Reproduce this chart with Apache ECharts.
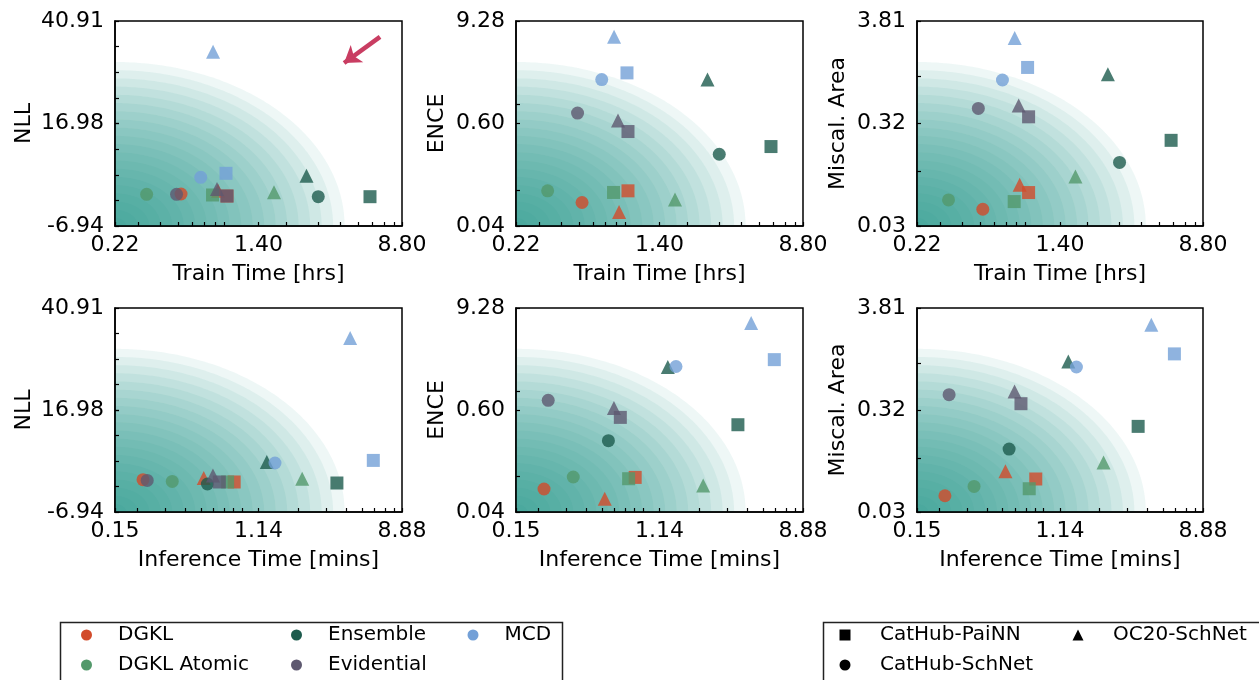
<!DOCTYPE html>
<html>
<head>
<meta charset="utf-8">
<script src="https://cdn.jsdelivr.net/npm/echarts@6/dist/echarts.min.js"></script>
<style>html,body{margin:0;padding:0;background:#fff}#c{width:1259px;height:680px}</style>
</head>
<body>
<div id="c"></div>
<script>
// ---------------- data ----------------
const methods = ['DGKL', 'DGKL Atomic', 'Ensemble', 'Evidential', 'MCD'];
const datasets = ['CatHub-PaiNN', 'CatHub-SchNet', 'OC20-SchNet'];
// each row: [CatHub-PaiNN, CatHub-SchNet, OC20-SchNet], rows in methods order
const trainTime = [[0.935, 0.519, 0.834], [0.777, 0.334, 1.708], [5.84, 3.01, 2.59], [0.935, 0.490, 0.823], [0.923, 0.668, 0.782]];
const inferenceTime = [[0.805, 0.2185, 0.521], [0.733, 0.332, 2.13], [3.50, 0.549, 1.284], [0.651, 0.232, 0.594], [5.89, 1.443, 4.23]];
const nllTrain = [[0.06, 0.53, 1.26], [0.30, 0.46, 0.93], [-0.10, -0.10, 4.80], [0.06, 0.46, 1.70], [5.36, 4.43, 33.74]];
const nllInfer = [[0.10, 0.64, 1.03], [0.10, 0.24, 0.87], [-0.14, -0.37, 4.79], [0.10, 0.47, 1.65], [5.16, 4.55, 33.87]];
const enceTrain = [[0.0993, 0.0727, 0.0565], [0.0951, 0.0993, 0.0788], [0.324, 0.264, 1.94], [0.484, 0.793, 0.650], [2.32, 1.94, 6.11]];
const enceInfer = [[0.0982, 0.0719, 0.0554], [0.0948, 0.0993, 0.0792], [0.404, 0.263, 1.90], [0.492, 0.777, 0.633], [2.32, 1.93, 6.20]];
const miscalTrain = [[0.0603, 0.0403, 0.0728], [0.0485, 0.0505, 0.0890], [0.213, 0.125, 1.05], [0.376, 0.461, 0.495], [1.24, 0.916, 2.52]];
const miscalInfer = [[0.0599, 0.0399, 0.0721], [0.0473, 0.0500, 0.0896], [0.215, 0.124, 1.04], [0.373, 0.464, 0.503], [1.25, 0.909, 2.54]];
// tick labels
const trainTicks = [0.22, 1.40, 8.80];
const inferTicks = [0.15, 1.14, 8.88];
const nllTicks = [-6.94, 16.98, 40.91];
const enceTicks = [0.04, 0.60, 9.28];
const miscalTicks = [0.03, 0.32, 3.81];
// annotation arrow (data units of the Train-time / NLL panel)
const arrowFrom = [6.64, 37.2];
const arrowTo = [4.19, 31.1];

// ---------------- styling ----------------
const FONT = 'DejaVu Sans';
const colors = ['#d24b2b', '#53996b', '#1d5b4d', '#5e5970', '#73a0d7'];
const symbols = ['rect', 'circle', 'triangle'];
const symSizes = [13, 13, 14];
const SHADE_LAYERS = 20;
const gridPos = [
  [115, 21, 287, 205], [516, 21, 287, 205], [917, 21, 286, 205],
  [115, 308, 287, 204], [516, 308, 287, 204], [917, 308, 286, 204]
];

function axisInfo(kind, ticks, isX) {
  if (kind === 'log') {
    const hi = ticks[2], lo = ticks[1] * ticks[1] / hi;
    const mid = Math.sqrt(lo * hi);
    const minor = [];
    const subs = isX ? [2, 3, 4, 5, 6, 7, 8, 9] : [1];
    for (let e = -3; e <= 2; e++) subs.forEach(function (m) {
      const v = m * Math.pow(10, e);
      if (v > lo * 1.001 && v < hi * 0.999) minor.push(v);
    });
    return {lo, hi, labels: [lo * (1 + 1e-7), mid, hi * (1 - 1e-7)], minor};
  }
  const lo = ticks[0], hi = ticks[2], mid = (lo + hi) / 2;
  const minor = [];
  for (let k = 1; k < 8; k++) minor.push(lo + k * (hi - lo) / 8);
  const eps = (hi - lo) * 1e-9;
  return {lo, hi, labels: [lo + eps, mid, hi - eps], minor};
}

function makeAxis(kind, ticks, gi, isX, name, nameGap) {
  const info = axisInfo(kind, ticks, isX);
  const isLog = kind === 'log';
  const fmt = function (v) {
    let best = 0, bd = Infinity;
    info.labels.forEach(function (l, i) {
      const d = isLog ? Math.abs(Math.log(v) - Math.log(l)) : Math.abs(v - l);
      if (d < bd) { bd = d; best = i; }
    });
    return ticks[best].toFixed(2);
  };
  return {
    type: isLog ? 'log' : 'value',
    logBase: 10,
    gridIndex: gi,
    min: info.lo, max: info.hi,
    z: 10,
    name: name,
    nameLocation: 'middle',
    nameGap: nameGap,
    nameTextStyle: {fontFamily: FONT, fontSize: 22, color: '#000'},
    axisLine: {show: true, onZero: false, lineStyle: {color: '#000', width: 1.5}},
    axisTick: {show: true, inside: true, length: 4, lineStyle: {color: '#000', width: 1.2},
      customValues: info.minor.concat(info.labels)},
    minorTick: {show: false},
    splitLine: {show: false},
    axisLabel: {show: true, margin: isX ? 8 : 11, fontFamily: FONT, fontSize: 22, color: '#000',
      customValues: info.labels, formatter: fmt, hideOverlap: false},
    _info: info
  };
}

const panels = [
  {x: ['log', trainTicks, 'Train Time [hrs]', trainTime], y: ['value', nllTicks, 'NLL', nllTrain, 80]},
  {x: ['log', trainTicks, 'Train Time [hrs]', trainTime], y: ['log', enceTicks, 'ENCE', enceTrain, 68]},
  {x: ['log', trainTicks, 'Train Time [hrs]', trainTime], y: ['log', miscalTicks, 'Miscal. Area', miscalTrain, 68]},
  {x: ['log', inferTicks, 'Inference Time [mins]', inferenceTime], y: ['value', nllTicks, 'NLL', nllInfer, 80]},
  {x: ['log', inferTicks, 'Inference Time [mins]', inferenceTime], y: ['log', enceTicks, 'ENCE', enceInfer, 68]},
  {x: ['log', inferTicks, 'Inference Time [mins]', inferenceTime], y: ['log', miscalTicks, 'Miscal. Area', miscalInfer, 68]}
];

const grids = [], xAxes = [], yAxes = [], series = [];

function shadeRender(params, api) {
  const cs = params.coordSys;
  const r = api.value(2);
  const pts = [[cs.x, cs.y + cs.height]];
  for (let i = 0; i <= 90; i++) {
    const t = i / 90 * Math.PI / 2;
    pts.push([cs.x + r * cs.width * Math.cos(t), cs.y + cs.height - r * cs.height * Math.sin(t)]);
  }
  return {type: 'polygon', silent: true, shape: {points: pts}, style: {fill: 'rgba(42,157,143,0.08)', stroke: null}};
}

panels.forEach(function (p, gi) {
  const g = gridPos[gi];
  grids.push({left: g[0], top: g[1], width: g[2], height: g[3], show: true, borderColor: '#000', borderWidth: 1.5,
    backgroundColor: 'transparent', containLabel: false, outerBoundsMode: 'none'});
  const xa = makeAxis(p.x[0], p.x[1], gi, true, p.x[2], 37.5);
  const ya = makeAxis(p.y[0], p.y[1], gi, false, p.y[2], p.y[4]);
  xa.position = 'bottom'; ya.position = 'left';
  const xi = xa._info, yi = ya._info; delete xa._info; delete ya._info;
  xAxes.push(xa); yAxes.push(ya);
  // background shading: concentric quarter circles in axes-fraction space
  const shadeData = [];
  for (let k = 1; k <= SHADE_LAYERS; k++) shadeData.push([xi.lo, yi.lo, 0.8 * k / SHADE_LAYERS]);
  series.push({type: 'custom', xAxisIndex: gi, yAxisIndex: gi, data: shadeData, renderItem: shadeRender,
    encode: {x: 0, y: 1}, silent: true, z: 1, clip: true, animation: false});
  const xs = p.x[3], ys = p.y[3];
  methods.forEach(function (m, mi) {
    const data = datasets.map(function (d, di) {
      return {value: [xs[mi][di], ys[mi][di]], symbol: symbols[di], symbolSize: symSizes[di]};
    });
    const s = {type: 'scatter', name: m, xAxisIndex: gi, yAxisIndex: gi, data: data, z: 3 + mi * 0.01,
      itemStyle: {color: colors[mi], opacity: 0.8}, silent: true, emphasis: {disabled: true}, animation: false};
    if (gi === 0 && mi === 0) {
      s.markLine = {silent: true, animation: false, symbol: ['none', 'arrow'], symbolSize: 16,
        lineStyle: {color: '#c93d62', width: 4.5, type: 'solid', opacity: 1},
        label: {show: false}, emphasis: {disabled: true},
        data: [[{coord: arrowFrom}, {coord: arrowTo}]]};
    }
    series.push(s);
  });
});
// legend proxies for dataset markers
datasets.forEach(function (d, di) {
  series.push({type: 'scatter', name: d, xAxisIndex: 0, yAxisIndex: 0, data: [], symbol: symbols[di],
    itemStyle: {color: '#000'}, silent: true});
});

const legTxt = {fontFamily: FONT, fontSize: 20, color: '#000', lineHeight: 20};
function leg(names, left, pad, icons) {
  return {orient: 'vertical', left: left, top: 625, itemGap: 10, itemWidth: 11, itemHeight: 11,
    selectedMode: false, padding: 0, itemStyle: {opacity: 1},
    textStyle: Object.assign({padding: [0, 0, 0, pad]}, legTxt),
    data: names.map(function (n, i) { return {name: n, icon: icons[i]}; })};
}

const option = {
  animation: false,
  backgroundColor: '#fff',
  grid: grids, xAxis: xAxes, yAxis: yAxes, series: series,
  legend: [
    leg([methods[0], methods[1]], 81, 21, ['circle', 'circle']),
    leg([methods[2], methods[3]], 291, 21, ['circle', 'circle']),
    leg([methods[4]], 467.5, 21, ['circle']),
    leg([datasets[0], datasets[1]], 839.5, 24.5, ['rect', 'circle']),
    leg([datasets[2]], 1072.5, 24.5, ['triangle'])
  ],
  graphic: [
    {type: 'rect', left: 58, top: 620, shape: {width: 502, height: 80}, style: {fill: 'none', stroke: '#222', lineWidth: 1.5}, silent: true, z: -1},
    {type: 'rect', left: 821, top: 620, shape: {width: 460, height: 80}, style: {fill: 'none', stroke: '#222', lineWidth: 1.5}, silent: true, z: -1}
  ]
};
const chart = echarts.init(document.getElementById('c'));
chart.setOption(option);
</script>
</body>
</html>
